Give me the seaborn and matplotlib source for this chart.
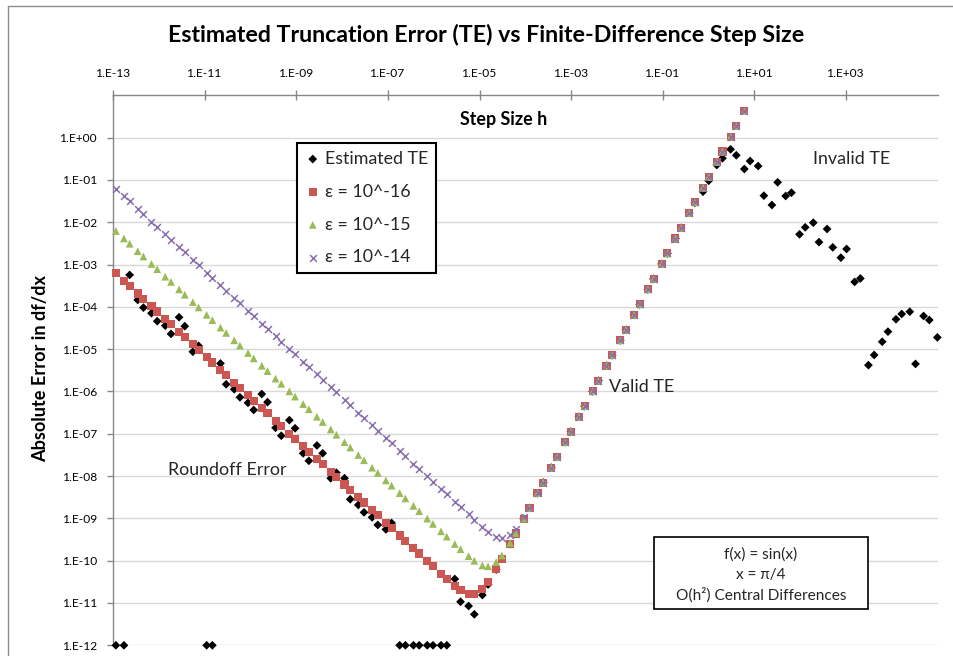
import matplotlib
matplotlib.use("Agg")
import matplotlib.pyplot as plt
from matplotlib.patches import Rectangle
from matplotlib.lines import Line2D
from matplotlib.ticker import NullLocator
import seaborn as sns
import pandas as pd

# ---------------- data ----------------
step_size = [
    1.137e-13, 1.705e-13, 2.274e-13, 3.411e-13, 4.547e-13, 6.821e-13, 9.095e-13, 1.364e-12, 1.819e-12, 2.728e-12,
    3.638e-12, 5.457e-12, 7.276e-12, 1.091e-11, 1.455e-11, 2.183e-11, 2.910e-11, 4.366e-11, 5.821e-11, 8.731e-11,
    1.164e-10, 1.746e-10, 2.328e-10, 3.492e-10, 4.657e-10, 6.985e-10, 9.313e-10, 1.397e-9, 1.863e-9, 2.794e-9,
    3.725e-9, 5.588e-9, 7.451e-9, 1.118e-8, 1.490e-8, 2.235e-8, 2.980e-8, 4.470e-8, 5.960e-8, 8.941e-8,
    1.192e-7, 1.788e-7, 2.384e-7, 3.576e-7, 4.768e-7, 7.153e-7, 9.537e-7, 1.431e-6, 1.907e-6, 2.861e-6,
    3.815e-6, 5.722e-6, 7.629e-6, 1.144e-5, 1.526e-5, 2.289e-5, 3.052e-5, 4.578e-5, 6.104e-5, 9.155e-5,
    1.221e-4, 1.831e-4, 2.441e-4, 3.662e-4, 4.883e-4, 7.324e-4, 9.766e-4, 1.465e-3, 1.953e-3, 2.930e-3,
    3.906e-3, 5.859e-3, 7.813e-3, 1.172e-2, 1.563e-2, 2.344e-2, 3.125e-2, 4.688e-2, 0.0625, 0.09375,
    0.125, 0.1875, 0.25, 0.375, 0.5, 0.75, 1.0, 1.5, 2.0, 3.0,
    4.0, 6.0, 8.0, 12.0, 16.0, 24.0, 32.0, 48.0, 64.0, 96.0,
    128.0, 192.0, 256.0, 384.0, 512.0, 768.0, 1024.0, 1536.0, 2048.0, 3072.0,
    4096.0, 6144.0, 8192.0, 12288.0, 16384.0, 24576.0, 32768.0, 49152.0, 65536.0, 98304.0,
]

estimated_te = [
    1e-12, 1e-12, 5.7e-4, 1.46e-4, 9.6e-5, 7.1e-5, 4.6e-5, 3.6e-5, 2.3e-5, 5.7e-5,
    3.5e-5, 8.7e-6, 1.2e-5, 1e-12, 1e-12, 4.6e-6, 1.48e-6, 1.13e-6, 7.3e-7, 5.4e-7,
    3.66e-7, 8.7e-7, 5.6e-7, 1.39e-7, 9.0e-8, 2.1e-7, 1.35e-7, 3.46e-8, 2.3e-8, 5.3e-8,
    3.46e-8, 8.9e-9, 1.2e-8, 8.9e-9, 2.83e-9, 2.08e-9, 1.39e-9, 1.06e-9, 7.0e-10, 5.5e-10,
    7.8e-10, 1e-12, 1e-12, 1e-12, 1e-12, 1e-12, 1e-12, 1e-12, 1e-12, 3.7e-11,
    1.07e-11, 8.5e-12, 5.4e-12, 1.54e-11, 2.74e-11, 6.17e-11, 1.10e-10, 2.47e-10, 4.39e-10, 9.88e-10,
    1.76e-9, 3.95e-9, 7.03e-9, 1.58e-8, 2.81e-8, 6.32e-8, 1.12e-7, 2.53e-7, 4.50e-7, 1.01e-6,
    1.80e-6, 4.05e-6, 7.19e-6, 1.62e-5, 2.88e-5, 6.47e-5, 1.15e-4, 2.59e-4, 4.60e-4, 1.04e-3,
    1.84e-3, 4.14e-3, 7.37e-3, 1.66e-2, 2.9e-2, 5.3e-2, 9.6e-2, 0.226, 0.326, 0.53,
    0.384, 0.182, 0.281, 0.214, 0.0426, 0.0256, 0.0883, 0.0419, 0.0501, 5.2e-3,
    7.6e-3, 9.8e-3, 3.4e-3, 6.95e-3, 2.56e-3, 1.46e-3, 2.34e-3, 3.9e-4, 4.7e-4, 4.2e-6,
    7.3e-6, 1.5e-5, 2.6e-5, 5.1e-5, 6.8e-5, 7.7e-5, 4.5e-6, 6.1e-5, 4.9e-5, 1.9e-5,
]

err_eps16 = [
    6.22e-4, 4.15e-4, 3.11e-4, 2.07e-4, 1.555e-4, 1.037e-4, 7.77e-5, 5.18e-5, 3.89e-5, 2.59e-5,
    1.94e-5, 1.30e-5, 9.72e-6, 6.48e-6, 4.86e-6, 3.24e-6, 2.43e-6, 1.62e-6, 1.215e-6, 8.10e-7,
    6.07e-7, 4.05e-7, 3.04e-7, 2.02e-7, 1.52e-7, 1.01e-7, 7.59e-8, 5.06e-8, 3.80e-8, 2.53e-8,
    1.90e-8, 1.27e-8, 9.49e-9, 6.33e-9, 4.75e-9, 3.16e-9, 2.37e-9, 1.58e-9, 1.19e-9, 7.91e-10,
    5.93e-10, 3.95e-10, 2.97e-10, 1.98e-10, 1.48e-10, 9.89e-11, 7.42e-11, 4.94e-11, 3.75e-11, 2.57e-11,
    2.02e-11, 1.63e-11, 1.61e-11, 2.16e-11, 3.21e-11, 6.48e-11, 1.12e-10, 2.48e-10, 4.40e-10, 9.89e-10,
    1.76e-9, 3.95e-9, 7.03e-9, 1.58e-8, 2.81e-8, 6.32e-8, 1.12e-7, 2.53e-7, 4.50e-7, 1.01e-6,
    1.80e-6, 4.05e-6, 7.19e-6, 1.62e-5, 2.88e-5, 6.47e-5, 1.15e-4, 2.59e-4, 4.60e-4, 1.04e-3,
    1.84e-3, 4.14e-3, 7.37e-3, 1.66e-2, 2.95e-2, 6.63e-2, 0.118, 0.265, 0.471, 1.06,
    1.89, 4.24,
]

err_eps15 = [
    6.22e-3, 4.15e-3, 3.11e-3, 2.07e-3, 1.555e-3, 1.037e-3, 7.77e-4, 5.18e-4, 3.89e-4, 2.59e-4,
    1.94e-4, 1.30e-4, 9.72e-5, 6.48e-5, 4.86e-5, 3.24e-5, 2.43e-5, 1.62e-5, 1.215e-5, 8.10e-6,
    6.07e-6, 4.05e-6, 3.04e-6, 2.02e-6, 1.52e-6, 1.01e-6, 7.59e-7, 5.06e-7, 3.80e-7, 2.53e-7,
    1.90e-7, 1.27e-7, 9.49e-8, 6.33e-8, 4.75e-8, 3.16e-8, 2.37e-8, 1.58e-8, 1.19e-8, 7.91e-9,
    5.93e-9, 3.95e-9, 2.97e-9, 1.98e-9, 1.48e-9, 9.89e-10, 7.42e-10, 4.94e-10, 3.71e-10, 2.48e-10,
    1.87e-10, 1.28e-10, 9.96e-11, 7.72e-11, 7.37e-11, 9.26e-11, 1.33e-10, 2.62e-10, 4.51e-10, 9.96e-10,
    1.76e-9, 3.95e-9, 7.03e-9, 1.58e-8, 2.81e-8, 6.32e-8, 1.12e-7, 2.53e-7, 4.50e-7, 1.01e-6,
    1.80e-6, 4.05e-6, 7.19e-6, 1.62e-5, 2.88e-5, 6.47e-5, 1.15e-4, 2.59e-4, 4.60e-4, 1.04e-3,
    1.84e-3, 4.14e-3, 7.37e-3, 1.66e-2, 2.95e-2, 6.63e-2, 0.118, 0.265, 0.471, 1.06,
    1.89, 4.24,
]

err_eps14 = [
    6.22e-2, 4.15e-2, 3.11e-2, 2.07e-2, 1.555e-2, 1.037e-2, 7.77e-3, 5.18e-3, 3.89e-3, 2.59e-3,
    1.94e-3, 1.30e-3, 9.72e-4, 6.48e-4, 4.86e-4, 3.24e-4, 2.43e-4, 1.62e-4, 1.215e-4, 8.10e-5,
    6.07e-5, 4.05e-5, 3.04e-5, 2.02e-5, 1.52e-5, 1.01e-5, 7.59e-6, 5.06e-6, 3.80e-6, 2.53e-6,
    1.90e-6, 1.27e-6, 9.49e-7, 6.33e-7, 4.75e-7, 3.16e-7, 2.37e-7, 1.58e-7, 1.19e-7, 7.91e-8,
    5.93e-8, 3.95e-8, 2.97e-8, 1.98e-8, 1.48e-8, 9.89e-9, 7.41e-9, 4.94e-9, 3.71e-9, 2.47e-9,
    1.85e-9, 1.24e-9, 9.34e-10, 6.33e-10, 4.90e-10, 3.71e-10, 3.42e-10, 4.01e-10, 5.55e-10, 1.065e-9,
    1.81e-9, 3.99e-9, 7.05e-9, 1.58e-8, 2.81e-8, 6.32e-8, 1.12e-7, 2.53e-7, 4.50e-7, 1.01e-6,
    1.80e-6, 4.05e-6, 7.19e-6, 1.62e-5, 2.88e-5, 6.47e-5, 1.15e-4, 2.59e-4, 4.60e-4, 1.04e-3,
    1.84e-3, 4.14e-3, 7.37e-3, 1.66e-2, 2.95e-2, 6.63e-2, 0.118, 0.265, 0.471, 1.06,
    1.89, 4.24,
]

series_labels = ["Estimated TE", "ε = 10^-16", "ε = 10^-15", "ε = 10^-14"]
x_tick_values = [1e-13, 1e-11, 1e-9, 1e-7, 1e-5, 1e-3, 1e-1, 1e1, 1e3]
x_tick_labels = ["1.E-13", "1.E-11", "1.E-09", "1.E-07", "1.E-05", "1.E-03", "1.E-01", "1.E+01", "1.E+03"]
y_tick_values = [1e0, 1e-1, 1e-2, 1e-3, 1e-4, 1e-5, 1e-6, 1e-7, 1e-8, 1e-9, 1e-10, 1e-11, 1e-12]
y_tick_labels = ["1.E+00", "1.E-01", "1.E-02", "1.E-03", "1.E-04", "1.E-05", "1.E-06",
                 "1.E-07", "1.E-08", "1.E-09", "1.E-10", "1.E-11", "1.E-12"]

title_text = "Estimated Truncation Error (TE) vs Finite-Difference Step Size"
x_title = "Step Size h"
y_title = "Absolute Error in df/dx"
info_lines = ["f(x) = sin(x)", "x = π/4", "O(h²) Central Differences"]

# ---------------- styling ----------------
sns.set_theme(style="white")
plt.rcParams["font.family"] = ["Lato", "DejaVu Sans"]

W, H = 954, 656
fig = plt.figure(figsize=(W / 100, H / 100), dpi=100)
fig.patch.set_facecolor("white")
renderer = fig.canvas.get_renderer()


def fx(px):
    return px / W


def fy(py):
    return 1 - py / H


def size_for(s, target_w, weight="normal", base=10.0):
    t = fig.text(0, 0, s, fontsize=base, fontweight=weight)
    w = t.get_window_extent(renderer).width
    t.remove()
    return base * target_w / w


L, R, T, B = 113.3, 937.7, 95.4, 645.3
ax = fig.add_axes([fx(L), fy(B), (R - L) / W, (B - T) / H])
ax.set_facecolor("white")
ax.set_xscale("log")
ax.set_yscale("log")

df_te = pd.DataFrame({"h": step_size, "err": estimated_te})
df16 = pd.DataFrame({"h": step_size[:len(err_eps16)], "err": err_eps16})
df15 = pd.DataFrame({"h": step_size[:len(err_eps15)], "err": err_eps15})
df14 = pd.DataFrame({"h": step_size[:len(err_eps14)], "err": err_eps14})

sns.scatterplot(data=df_te, x="h", y="err", marker="D", s=20, color="black",
                edgecolor="none", ax=ax, label=series_labels[0], clip_on=False, zorder=3)
sns.scatterplot(data=df16, x="h", y="err", marker="s", s=34, color="#CB5652",
                edgecolor="none", ax=ax, label=series_labels[1], clip_on=False, zorder=4)
sns.scatterplot(data=df15, x="h", y="err", marker="^", s=31, color="#9BBB59",
                edgecolor="none", ax=ax, label=series_labels[2], clip_on=False, zorder=5)
sns.scatterplot(data=df14, x="h", y="err", marker="x", s=24, color="#8A6FB0",
                linewidth=1.1, ax=ax, label=series_labels[3], clip_on=False, zorder=6)

ax.set_xlim(1e-13, 1e5)
ax.set_ylim(1e-12, 1e1)
ax.set_xticks(x_tick_values)
ax.set_xticklabels(x_tick_labels)
ax.set_yticks(y_tick_values)
ax.set_yticklabels(y_tick_labels)
ax.xaxis.set_minor_locator(NullLocator())
ax.yaxis.set_minor_locator(NullLocator())
ax.set_xlabel("")
ax.set_ylabel("")

tick_fs = size_for("1.E-13", 35)
ax.xaxis.tick_top()
ax.tick_params(axis="x", which="major", top=True, bottom=False, labeltop=True, labelbottom=False,
               direction="inout", length=7, width=1, color="#868686", labelsize=tick_fs,
               labelcolor="black", pad=8)
ax.tick_params(axis="y", which="major", left=True, right=False, direction="out", length=4,
               width=1, color="#868686", labelsize=tick_fs, labelcolor="black", pad=7)

ax.grid(False)
ax.yaxis.grid(True, color="#D9D9D9", linewidth=1)
ax.set_axisbelow(True)
for side in ["right", "bottom"]:
    ax.spines[side].set_visible(False)
for side in ["top", "left"]:
    ax.spines[side].set_visible(True)
    ax.spines[side].set_color("#868686")
    ax.spines[side].set_linewidth(1)

# legend
leg_fs = size_for("Estimated TE", 103)
leg = ax.legend(loc="upper left",
                bbox_to_anchor=((296.7 - L) / (R - L), 1 - (142.7 - T) / (B - T)),
                borderaxespad=0, frameon=True, fancybox=False, edgecolor="black",
                fontsize=leg_fs, handletextpad=0.25, labelspacing=0.95, borderpad=0.45,
                handlelength=0.9, scatterpoints=1, framealpha=1)
leg.get_frame().set_linewidth(1.5)
leg.set_zorder(10)

# titles
title_fs = size_for(title_text, 638, weight="bold")
fig.text(fx(486), fy(35), title_text, ha="center", va="center", fontsize=title_fs,
         fontweight="bold", color="black")
xt_fs = size_for(x_title, 87, weight="bold")
fig.text(fx(504), fy(119), x_title, ha="center", va="center", fontsize=xt_fs,
         fontweight="bold", color="black")
yt_fs = size_for(y_title, 188, weight="bold")
fig.text(fx(41), fy(369), y_title, ha="center", va="center", rotation=90,
         fontsize=yt_fs, fontweight="bold", color="black")

# annotations
ann_fs = size_for("Roundoff Error", 119)
fig.text(fx(227.5), fy(470), "Roundoff Error", ha="center", va="center", fontsize=ann_fs)
fig.text(fx(641.5), fy(387), "Valid TE", ha="center", va="center", fontsize=ann_fs)
fig.text(fx(852), fy(159), "Invalid TE", ha="center", va="center", fontsize=ann_fs)

# info box
info_fs = size_for(info_lines[2], 171)
fig.add_artist(Rectangle((fx(654.3), fy(609.3)), (868.3 - 654.3) / W, (609.3 - 536.7) / H,
                         transform=fig.transFigure, facecolor="white", edgecolor="black",
                         linewidth=1.2, zorder=8))
for line, yc in zip(info_lines, [555, 574.5, 595.5]):
    fig.text(fx(761), fy(yc), line, ha="center", va="center", fontsize=info_fs, zorder=9)

# chart-area border (left and top edges visible)
fig.add_artist(Line2D([fx(8), fx(8)], [fy(6), 0], transform=fig.transFigure,
                      color="#8E8E8E", linewidth=1))
fig.add_artist(Line2D([fx(8), 1], [fy(6), fy(6)], transform=fig.transFigure,
                      color="#8E8E8E", linewidth=1))

fig.savefig("out.png", dpi=100, facecolor="white")
